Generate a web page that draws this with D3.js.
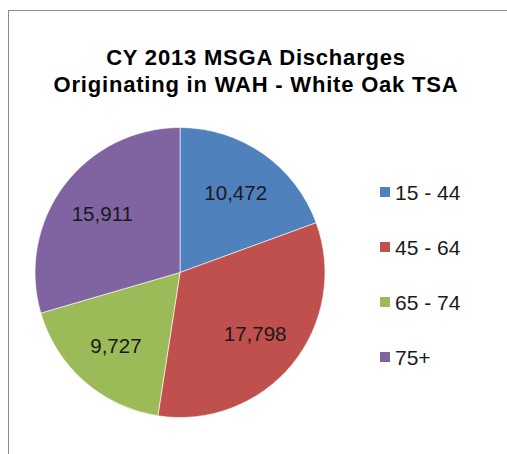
<!DOCTYPE html>
<html>
<head>
<meta charset="utf-8">
<script src="https://cdn.jsdelivr.net/npm/d3@7"></script>
<style>
  body { margin: 0; background: #fff; }
  svg { display: block; font-family: Arial, "Liberation Sans", sans-serif; }
</style>
</head>
<body>
<svg id="chart"></svg>
<script>
var w = 507, h = 454;

// chart data
var categories = ['15 - 44', '45 - 64', '65 - 74', '75+'];
var values = [10472, 17798, 9727, 15911];
var colors = ['#4F81BD', '#C0504D', '#9BBB59', '#8064A2'];
var titleLines = ['CY 2013 MSGA Discharges', 'Originating in WAH - White Oak TSA'];

var svg = d3.select('#chart')
  .attr('width', w)
  .attr('height', h);

// chart frame (only left and top edges show in the crop)
svg.append('rect')
  .attr('x', 8.5)
  .attr('y', 10.5)
  .attr('width', w + 20)
  .attr('height', h + 20)
  .attr('fill', 'none')
  .attr('stroke', '#8c8c8c')
  .attr('stroke-width', 1);

// title
svg.append('text')
  .attr('text-anchor', 'middle')
  .attr('font-size', 22)
  .attr('font-weight', 'bold')
  .attr('letter-spacing', 0.8)
  .attr('fill', '#000')
  .selectAll('tspan')
  .data(titleLines)
  .enter()
  .append('tspan')
  .attr('x', 256)
  .attr('y', function(d, i){ return 65 + i * 27; })
  .text(function(d){ return d; });

var data = categories.map(function(c, i){
  return {name: c, value: values[i], color: colors[i]};
});

var radius = 145;
var pie = d3.pie().sort(null).value(function(d){ return d.value; });
var arc = d3.arc().innerRadius(0).outerRadius(radius);
var labelArc = d3.arc().innerRadius(radius * 0.67).outerRadius(radius * 0.67);

var g = svg.append('g')
  .attr('transform', 'translate(180,272.5)');

var slices = g.selectAll('g.slice')
  .data(pie(data))
  .enter()
  .append('g')
  .attr('class', 'slice');

slices.append('path')
  .attr('d', arc)
  .attr('fill', function(d){ return d.data.color; })
  .attr('stroke', '#fff')
  .attr('stroke-width', 0.6);

slices.append('text')
  .attr('transform', function(d){ return 'translate(' + labelArc.centroid(d) + ')'; })
  .attr('text-anchor', 'middle')
  .attr('dy', '0.35em')
  .attr('font-size', 20.5)
  .attr('fill', '#1a1a1a')
  .text(function(d){ return d3.format(',')(d.data.value); });

// legend
var legend = svg.append('g')
  .selectAll('g')
  .data(data)
  .enter()
  .append('g')
  .attr('transform', function(d, i){ return 'translate(380,' + (192 + i * 55) + ')'; });

legend.append('rect')
  .attr('x', 0)
  .attr('y', -5)
  .attr('width', 10)
  .attr('height', 10)
  .attr('fill', function(d){ return d.color; });

legend.append('text')
  .attr('x', 15)
  .attr('dy', '0.36em')
  .attr('font-size', 21)
  .attr('fill', '#1a1a1a')
  .text(function(d){ return d.name; });
</script>
</body>
</html>
